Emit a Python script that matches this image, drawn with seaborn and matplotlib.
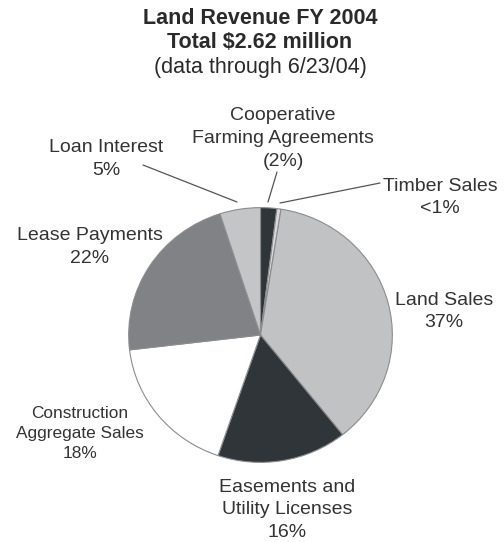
import matplotlib
matplotlib.use("Agg")
import matplotlib.pyplot as plt
from matplotlib.lines import Line2D
import seaborn as sns

# Revenue shares by source, clockwise from the top of the pie
sources = [
    "Cooperative Farming Agreements",
    "Timber Sales",
    "Land Sales",
    "Easements and Utility Licenses",
    "Construction Aggregate Sales",
    "Lease Payments",
    "Loan Interest",
]
shares = [2, 0.5, 37, 16, 18, 22, 5]
pct_labels = ["(2%)", "<1%", "37%", "16%", "18%", "22%", "5%"]
label_names = [
    "Cooperative\nFarming Agreements",
    "Timber Sales",
    "Land Sales",
    "Easements and\nUtility Licenses",
    "Construction\nAggregate Sales",
    "Lease Payments",
    "Loan Interest",
]
slice_colors = ["#2f3538", "#d9d9db", "#c1c2c4", "#2f3538", "#ffffff", "#808285", "#c4c5c7"]

title_lines = ["Land Revenue FY 2004", "Total $2.62 million", "(data through 6/23/04)"]

sns.set_theme(style="white")
plt.rcParams["font.family"] = ["Liberation Sans", "DejaVu Sans"]

W, H = 504, 542
fig = plt.figure(figsize=(W / 100, H / 100), dpi=100)
fig.patch.set_facecolor("white")


def fx(px):
    return px / W


def fy(py):
    return 1 - py / H


# Pie axes: slightly wider than tall, like the printed chart
cx, cy, rx, ry = 260.5, 335, 132.5, 128
ax = fig.add_axes([fx(cx - rx), fy(cy + ry), 2 * rx / W, 2 * ry / H])
ax.pie(
    shares,
    colors=slice_colors,
    startangle=90,
    counterclock=False,
    radius=1,
    wedgeprops=dict(edgecolor="#8a8c8e", linewidth=0.8),
)
ax.set_aspect("auto")
ax.set_xlim(-1.005, 1.005)
ax.set_ylim(-1.005, 1.005)
ax.axis("off")

txt = "#2a2a2a"

# Title block
fig.text(fx(260), fy(18), title_lines[0], ha="center", va="center",
         fontsize=15.5, fontweight="bold", color=txt)
fig.text(fx(260), fy(42), title_lines[1], ha="center", va="center",
         fontsize=15.5, fontweight="bold", color=txt)
fig.text(fx(260), fy(67), title_lines[2], ha="center", va="center",
         fontsize=15.5, color=txt)

# Slice labels: centre of each text block and its font size
placements = [
    (283, 138.5, 14),
    (440, 197.5, 14),
    (444, 311.5, 14),
    (287, 510, 14),
    (80, 433.5, 12.4),
    (90, 247, 14),
    (106, 159, 14),
]
for name, pct, (x, y, size) in zip(label_names, pct_labels, placements):
    fig.text(fx(x), fy(y), name + "\n" + pct, ha="center", va="center",
             multialignment="center", fontsize=size, color="#333333",
             linespacing=1.45)

# Leader lines
leaders = [
    ((277, 172), (268, 202)),
    ((380, 183), (280, 203)),
    ((143, 165), (237, 202)),
]
for (x0, y0), (x1, y1) in leaders:
    fig.add_artist(Line2D([fx(x0), fx(x1)], [fy(y0), fy(y1)],
                          color="#555555", linewidth=0.9))

fig.savefig("out.png", dpi=100, facecolor="white")
